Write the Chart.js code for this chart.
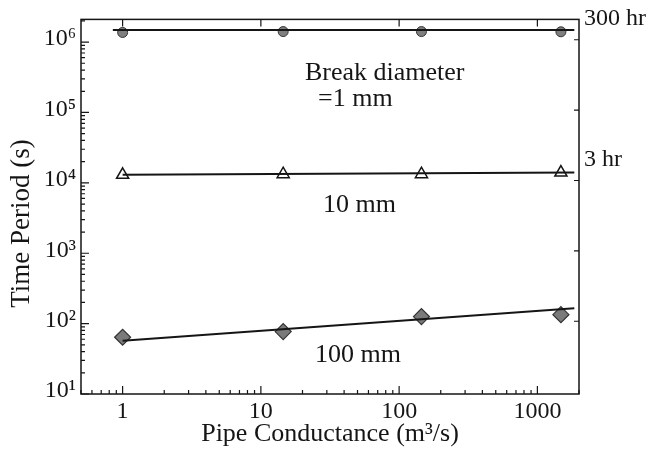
<!DOCTYPE html>
<html>
<head>
<meta charset="utf-8">
<script src="https://cdn.jsdelivr.net/npm/chart.js@4.4.1/dist/chart.umd.min.js"></script>
<style>
  html, body { margin: 0; padding: 0; background: #fff; }
  #wrap { width: 652px; height: 459px; }
</style>
</head>
<body>
<div id="wrap"><canvas id="chart"></canvas></div>
<script>
// pipe conductance (m3/s) for each run
const conductance = [1, 14.5, 145, 1480];
// time period (s) for each break diameter
const period1mm = [1.37e6, 1.41e6, 1.41e6, 1.40e6];
const period10mm = [1.3e4, 1.33e4, 1.33e4, 1.4e4];
const period100mm = [64, 77, 126, 134];
// fitted lines (end points)
const fitX = [0.85, 1850];
const fit1mm = [1.48e6, 1.48e6];
const fit10mm = [1.3e4, 1.4e4];
const fit100mm = [57, 165];

const xTicks = [1, 10, 100, 1000];
const xTickLabels = ['1', '10', '100', '1000'];
const yTicks = [10, 100, 1000, 1e4, 1e5, 1e6];
const yTickLabels = ['10\u00b9', '10\u00b2', '10\u00b3', '10\u2074', '10\u2075', '10\u2076'];
const hourTicks = [0.03, 0.3, 3, 30, 300];
const hourTickLabels = ['', '', '3 hr', '', '300 hr'];

const xMin = 0.5, xMax = 2000, yMin = 10, yMax = 2.1e6;
const FONT = "'Liberation Serif', 'Times New Roman', serif";
const INK = '#151515';

const pts = (xs, ys) => xs.map((x, i) => ({ x: x, y: ys[i] }));

// frame, inward ticks and the text labels inside the plot
const frameAndTicks = {
  id: 'frameAndTicks',
  afterDraw(chart) {
    const { ctx, chartArea: a, scales } = chart;
    const sx = scales.x, sy = scales.y, sh = scales.yHr;
    ctx.save();
    ctx.strokeStyle = INK;
    ctx.lineWidth = 1.5;
    ctx.strokeRect(a.left, a.top, a.right - a.left, a.bottom - a.top);

    ctx.lineWidth = 1.2;
    ctx.beginPath();
    // bottom and top, x ticks
    for (let d = -1; d <= 3; d++) {
      for (let m = 1; m <= 9; m++) {
        const v = m * Math.pow(10, d);
        if (v < xMin || v > xMax) continue;
        const px = sx.getPixelForValue(v);
        const len = m === 1 ? 8 : 4;
        ctx.moveTo(px, a.bottom); ctx.lineTo(px, a.bottom - len);
        if (m === 1) { ctx.moveTo(px, a.top); ctx.lineTo(px, a.top + 7); }
      }
    }
    // left, y ticks
    for (let d = 1; d <= 6; d++) {
      for (let m = 1; m <= 9; m++) {
        const v = m * Math.pow(10, d);
        if (v < yMin || v > yMax) continue;
        const py = sy.getPixelForValue(v);
        const len = m === 1 ? 8 : 4;
        ctx.moveTo(a.left, py); ctx.lineTo(a.left + len, py);
      }
    }
    // right, hour ticks
    hourTicks.forEach(h => {
      const py = sh.getPixelForValue(h);
      ctx.moveTo(a.right, py); ctx.lineTo(a.right - 5, py);
    });
    ctx.stroke();

    ctx.fillStyle = INK;
    ctx.font = '26px ' + FONT;
    ctx.textBaseline = 'middle';
    ctx.textAlign = 'left';
    ctx.fillText('Break diameter', 305, 73);
    ctx.fillText('=1 mm', 318, 99);
    ctx.fillText('10 mm', 323, 205);
    ctx.fillText('100 mm', 315, 355);
    ctx.restore();
  }
};

new Chart(document.getElementById('chart'), {
  type: 'scatter',
  data: {
    datasets: [
      { label: 'fit 1 mm', data: pts(fitX, fit1mm), showLine: true, borderColor: INK, borderWidth: 2, pointRadius: 0 },
      { label: 'fit 10 mm', data: pts([1, fitX[1]], fit10mm), showLine: true, borderColor: INK, borderWidth: 2, pointRadius: 0 },
      { label: 'fit 100 mm', data: pts([1, fitX[1]], fit100mm), showLine: true, borderColor: INK, borderWidth: 2, pointRadius: 0 },
      { label: '1 mm', data: pts(conductance, period1mm), pointStyle: 'circle', pointRadius: 5,
        backgroundColor: '#7f7f7f', borderColor: '#333', borderWidth: 1 },
      { label: '10 mm', data: pts(conductance, period10mm), pointStyle: 'triangle', pointRadius: 7,
        backgroundColor: '#fff', borderColor: INK, borderWidth: 1.5 },
      { label: '100 mm', data: pts(conductance, period100mm), pointStyle: 'rectRot', pointRadius: 8,
        backgroundColor: '#7a7a7a', borderColor: '#333', borderWidth: 1.2 }
    ]
  },
  options: {
    responsive: true,
    maintainAspectRatio: false,
    animation: false,
    layout: { padding: { top: 16, left: 0, right: 0, bottom: 0 } },
    plugins: { legend: { display: false }, tooltip: { enabled: false } },
    scales: {
      x: {
        type: 'logarithmic', min: xMin, max: xMax,
        afterBuildTicks: s => { s.ticks = xTicks.map(v => ({ value: v, major: true })); },
        afterFit: s => { s.height = 65; },
        grid: { display: false, drawTicks: false },
        border: { display: false },
        ticks: { color: INK, font: { family: FONT, size: 24 }, padding: 3, maxRotation: 0,
          callback: (v) => xTickLabels[xTicks.indexOf(v)] },
        title: { display: true, text: 'Pipe Conductance (m\u00b3/s)', color: INK,
          font: { family: FONT, size: 26 }, padding: { top: 0, bottom: 9 } }
      },
      y: {
        type: 'logarithmic', position: 'left', min: yMin, max: yMax,
        afterBuildTicks: s => { s.ticks = yTicks.map(v => ({ value: v, major: true })); },
        afterFit: s => { s.width = 81; },
        grid: { display: false, drawTicks: false },
        border: { display: false },
        ticks: { color: INK, font: { family: FONT, size: 24 }, padding: 5, labelOffset: -3,
          callback: (v) => yTickLabels[yTicks.indexOf(v)] },
        // trailing spaces push the title a little lower, as in the source figure
        title: { display: true, text: 'Time Period (s)\u00a0\u00a0\u00a0\u00a0\u00a0', color: INK,
          font: { family: FONT, size: 27 }, padding: { top: 6, bottom: 0 } }
      },
      yHr: {
        type: 'logarithmic', position: 'right', min: yMin / 3600, max: yMax / 3600,
        afterBuildTicks: s => { s.ticks = hourTicks.map(v => ({ value: v, major: true })); },
        afterFit: s => { s.width = 73; },
        grid: { display: false, drawTicks: false },
        border: { display: false },
        ticks: { color: INK, font: { family: FONT, size: 24 }, padding: 5, labelOffset: -21,
          callback: (v) => hourTickLabels[hourTicks.indexOf(v)] }
      }
    }
  },
  plugins: [frameAndTicks]
});
</script>
</body>
</html>
